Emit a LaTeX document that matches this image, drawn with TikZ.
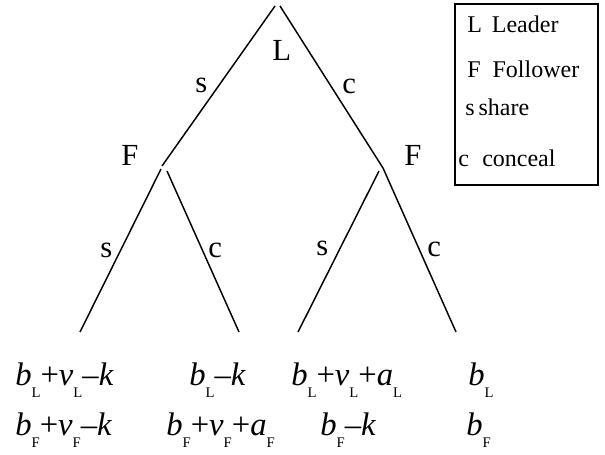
\documentclass[tikz,border=0pt]{standalone}
\usepackage{fontspec}
\setmainfont{Liberation Serif}
\newcommand\sbx[1]{\raisebox{-9.5pt}{\fontsize{11pt}{11pt}\selectfont #1}}
\newcommand\vr[2]{\textit{#1}\sbx{#2}}
\tikzset{
  branch/.style={line width=1.1pt},
  lbl/.style={inner sep=0pt, anchor=base west, font=\fontsize{23pt}{23pt}\selectfont},
  pay/.style={inner sep=0pt, anchor=base west, font=\fontsize{24.5pt}{24.5pt}\selectfont},
  leg/.style={inner sep=0pt, anchor=base west, font=\fontsize{18pt}{18pt}\selectfont},
}
\begin{document}
\begin{tikzpicture}[x=0.75pt,y=-0.75pt]
\useasboundingbox (0,0) rectangle (605,454);
% tree points
\coordinate (rl) at (275,6);
\coordinate (rr) at (280,6);
\coordinate (f1) at (162,166);
\coordinate (f1a) at (161,169);
\coordinate (f1b) at (167,171);
\coordinate (f2) at (383,168);
\coordinate (f2a) at (379,171);
\coordinate (t1) at (80,332);
\coordinate (t2) at (239,332);
\coordinate (t3) at (298,332);
\coordinate (t4) at (456,332);
\draw[branch] (rl) -- (f1);
\draw[branch] (rr) -- (f2) -- (t4);
\draw[branch] (f1a) -- (t1);
\draw[branch] (f1b) -- (t2);
\draw[branch] (f2a) -- (t3);
% node labels
\node[lbl] (nL) at (272,60) {L};
\node[lbl] (nF1) at (121,165) {F};
\node[lbl] (nF2) at (404,165) {F};
% edge labels
\node[lbl] (e1) at (195,92) {s};
\node[lbl] (e2) at (342,93) {c};
\node[lbl] (e3) at (100,257) {s};
\node[lbl] (e4) at (208,257) {c};
\node[lbl] (e5) at (316,255) {s};
\node[lbl] (e6) at (427,256) {c};
% payoffs
\node[pay] (p1a) at (15,385) {\vr{b}{L}+\vr{v}{L}–\textit{k}};
\node[pay] (p1b) at (15,435) {\vr{b}{F}+\vr{v}{F}–\textit{k}};
\node[pay] (p2a) at (189,385) {\vr{b}{L}–\textit{k}};
\node[pay] (p2b) at (166,435) {\vr{b}{F}+\vr{v}{F}+\vr{a}{F}};
\node[pay] (p3a) at (291,385) {\vr{b}{L}+\vr{v}{L}+\vr{a}{L}};
\node[pay] (p3b) at (320,435) {\vr{b}{F}–\textit{k}};
\node[pay] (p4a) at (468,385) {\vr{b}{L}};
\node[pay] (p4b) at (466,435) {\vr{b}{F}};
% legend
\draw[line width=1.1pt] (455,4) rectangle (598,185);
\node[leg] (l1) at (467,32) {L\hspace{7.5pt}Leader};
\node[leg] (l2) at (467,77) {F\hspace{9pt}Follower};
\node[leg] (l3) at (465,115) {s\hspace{3pt}share};
\node[leg] (l4) at (458,166) {c\hspace{10pt}conceal};
\end{tikzpicture}
\end{document}
